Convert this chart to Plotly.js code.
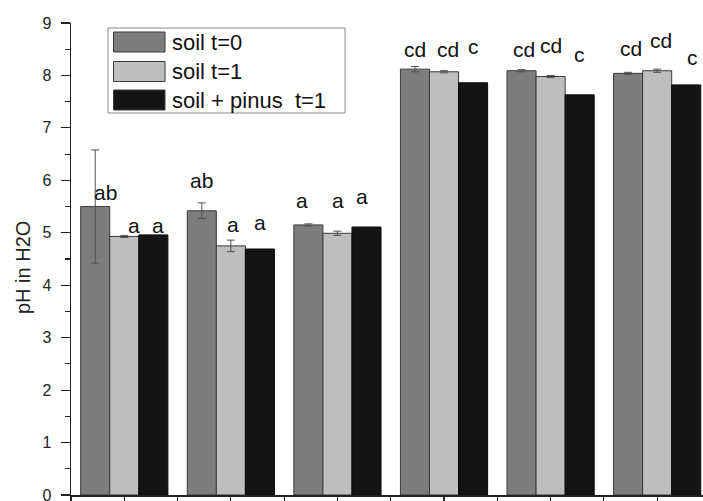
<!DOCTYPE html>
<html>
<head>
<meta charset="utf-8">
<script src="https://cdn.plot.ly/plotly-3.0.1.min.js"></script>
<style>
  html, body { margin: 0; padding: 0; background: #fff; overflow: hidden; }
  #chart { width: 703px; height: 520px; }
</style>
</head>
<body>
<div id="chart"></div>
<script>
// Sampling sites (group positions along the x axis)
const sites = [0, 1, 2, 3, 4, 5];

// Series names
const seriesNames = ['soil t=0', 'soil t=1', 'soil + pinus\u00a0\u00a0t=1'];

// pH in H2O, mean and standard error
const soilT0 = [5.50, 5.42, 5.15, 8.12, 8.09, 8.04];
const soilT0Err = [1.08, 0.15, 0.02, 0.05, 0.02, 0.02];
const soilT1 = [4.93, 4.75, 4.99, 8.07, 7.98, 8.09];
const soilT1Err = [0.02, 0.11, 0.04, 0.02, 0.02, 0.03];
const pinusT1 = [4.96, 4.69, 5.11, 7.86, 7.63, 7.82];

// Significance letters
const lettersT0 = ['ab', 'ab', 'a', 'cd', 'cd', 'cd'];
const lettersT1 = ['a', 'a', 'a', 'cd', 'cd', 'cd'];
const lettersPinus = ['a', 'a', 'a', 'c', 'c', 'c'];

const yTitle = 'pH in H2O';

// ---- styling / layout ----
const FONT = 'Arial, "Liberation Sans", sans-serif';
const fills = ['#7d7d7d', '#bebebe', '#141414'];
const outline = '#3a3a3a';
const BARGAP = 0.182;
const barW = (1 - BARGAP) / 3;

// baseline heights (pH units) of the letters over each bar
const letterBase = [
  [5.63, 5.85, 5.47, 8.36, 8.35, 8.37],
  [5.00, 5.02, 5.47, 8.36, 8.42, 8.52],
  [5.00, 5.05, 5.54, 8.40, 8.26, 8.20]
];
const letterNudge = [
  [10, 0, -6, 0, 2, 3],
  [10, 2, 1, 4, 0, 4],
  [5, 0, -5, 0, 0, 6]
];

// the drawing is taller than the window; the window shows the top 501 px
const W = 703, H = 520;
const M = { l: 71, r: 0, t: 23, b: 25 };
const pw = W - M.l - M.r, ph = H - M.t - M.b;
const px = x => (x - M.l) / pw;
const py = y => (H - M.b - y) / ph;

const errStyle = { type: 'data', visible: true, color: '#505050', thickness: 1, width: 4 };

const traces = [
  {
    type: 'bar', name: seriesNames[0], x: sites, y: soilT0,
    marker: { color: fills[0], line: { color: outline, width: 1 } },
    error_y: Object.assign({ array: soilT0Err }, errStyle)
  },
  {
    type: 'bar', name: seriesNames[1], x: sites, y: soilT1,
    marker: { color: fills[1], line: { color: outline, width: 1 } },
    error_y: Object.assign({ array: soilT1Err }, errStyle)
  },
  {
    type: 'bar', name: seriesNames[2], x: sites, y: pinusT1,
    marker: { color: fills[2], line: { color: '#0a0a0a', width: 1 } }
  }
];

const annotations = [];
const shapes = [];
[lettersT0, lettersT1, lettersPinus].forEach((letters, k) => {
  letters.forEach((t, i) => {
    annotations.push({
      x: sites[i] + (k - 1) * barW, y: letterBase[k][i],
      xref: 'x', yref: 'y', text: t, showarrow: false,
      xanchor: 'center', yanchor: 'bottom', yshift: -6, xshift: letterNudge[k][i],
      font: { family: FONT, size: 21, color: '#111' }
    });
  });
});

// y axis title
annotations.push({
  xref: 'paper', yref: 'paper', x: px(23), y: py(268),
  xanchor: 'center', yanchor: 'middle', textangle: -90, showarrow: false,
  text: yTitle, font: { family: FONT, size: 20, color: '#222' }
});

// Legend box with wide swatches
shapes.push({
  type: 'rect', xref: 'paper', yref: 'paper',
  x0: px(108), x1: px(345), y0: py(113), y1: py(28),
  line: { color: '#8a8a8a', width: 1 }, fillcolor: '#fff'
});
const rowTop = [32, 61.5, 90];
seriesNames.forEach((name, k) => {
  shapes.push({
    type: 'rect', xref: 'paper', yref: 'paper',
    x0: px(113.5), x1: px(165), y0: py(rowTop[k] + 20), y1: py(rowTop[k]),
    line: { color: outline, width: 1 }, fillcolor: fills[k]
  });
  annotations.push({
    xref: 'paper', yref: 'paper', x: px(170), y: py(rowTop[k] + 10),
    xanchor: 'left', yanchor: 'middle', showarrow: false, text: name,
    font: { family: FONT, size: 22, color: '#111' }
  });
});

const layout = {
  width: W, height: H,
  margin: M,
  paper_bgcolor: '#fff', plot_bgcolor: '#fff',
  barmode: 'group', bargap: BARGAP, bargroupgap: 0,
  showlegend: false,
  font: { family: FONT, color: '#222' },
  xaxis: {
    range: [-0.5, 5.43], showgrid: false, zeroline: false,
    showline: true, linecolor: '#222', linewidth: 1.5,
    ticks: 'outside', ticklen: 8, tickwidth: 1.2, tickcolor: '#222',
    tick0: -0.5, dtick: 0.5, showticklabels: false
  },
  yaxis: {
    range: [0, 9], showgrid: false, zeroline: false,
    showline: true, linecolor: '#222', linewidth: 1.5,
    ticks: 'outside', ticklen: 9, tickwidth: 1.2, tickcolor: '#222',
    tick0: 0, dtick: 1, ticklabelstandoff: 6,
    tickfont: { family: FONT, size: 16, color: '#222' },
    minor: { ticks: 'outside', ticklen: 5, tickwidth: 1.2, tickcolor: '#222', dtick: 0.5, showgrid: false }
  },
  annotations: annotations,
  shapes: shapes
};

Plotly.newPlot('chart', traces, layout, { displayModeBar: false, staticPlot: true });
</script>
</body>
</html>
